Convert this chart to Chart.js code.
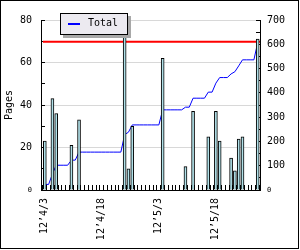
<!DOCTYPE html>
<html>
<head>
<meta charset="utf-8">
<script src="https://cdn.jsdelivr.net/npm/chart.js@4/dist/chart.umd.min.js"></script>
<style>
  html, body { margin: 0; padding: 0; background: #fff; }
  #wrap { position: relative; width: 300px; height: 250px; }
  #frame { position: absolute; left: 0; top: 0; width: 299px; height: 249px; box-sizing: border-box; border: 1px solid #000; pointer-events: none; }
  #legend { position: absolute; left: 60px; top: 13px; width: 68px; height: 22px; box-sizing: border-box; border: 1px solid #000; background: #eceaf0; box-shadow: 3px 3px 0 #a8a8a8; font: 10px "DejaVu Sans Mono"; color: #000; }
  #legend .swatch { position: absolute; left: 7px; top: 9px; width: 12px; height: 2px; background: #0000ff; }
  #legend .txt { position: absolute; left: 27px; top: 3px; line-height: 12px; }
</style>
</head>
<body>
<div id="wrap">
  <canvas id="chart" width="300" height="250"></canvas>
  <div id="legend"><span class="swatch"></span><span class="txt">Total</span></div>
  <div id="frame"></div>
</div>
<script>
// days counted from 12'4/3
let labelDays = [0, 15, 30, 45]
let labelText = ["12’4/3", "12’4/18", "12’5/3", "12’5/18"]

// pages read, only on the days something was read
let barDays = [0, 2, 3, 7, 9, 21, 22, 23, 31, 37, 39, 43, 45, 46, 49, 50, 51, 52, 56]
let pages = [23, 43, 36, 21, 33, 72, 10, 30, 62, 11, 37, 25, 37, 23, 15, 9, 24, 25, 71]

// running total, one value per day (right axis)
let total = [
  23, 23, 66, 102, 102, 102, 102, 123, 123, 156,
  156, 156, 156, 156, 156, 156, 156, 156, 156, 156,
  156, 228, 238, 268, 268, 268, 268, 268, 268, 268,
  268, 330, 330, 330, 330, 330, 330, 341, 341, 378,
  378, 378, 378, 403, 403, 440, 463, 463, 463, 478,
  487, 511, 536, 536, 536, 536, 607
]

let goal = 610

const mono = "DejaVu Sans Mono"

new Chart(document.getElementById("chart"), {
  type: 'bar',
  data: {
    datasets: [{
      type: 'bar',
      data: barDays.map((d, i) => ({x: d, y: pages[i]})),
      backgroundColor: '#b0e0e8',
      borderColor: '#000',
      borderWidth: 1,
      barThickness: 3,
      yAxisID: 'y',
      order: 0
    }, {
      type: 'line',
      data: total.map((v, i) => ({x: i, y: v})),
      borderColor: '#0000ff',
      borderWidth: 1,
      pointRadius: 0,
      tension: 0,
      yAxisID: 'y1',
      order: 1
    }, {
      type: 'line',
      data: [{x: -0.5, y: goal}, {x: 57, y: goal}],
      borderColor: '#ff0000',
      borderWidth: 2,
      pointRadius: 0,
      yAxisID: 'y1',
      order: 2
    }]
  },
  options: {
    responsive: false,
    animation: false,
    devicePixelRatio: 1,
    layout: { padding: { top: 20, left: 0, right: 0, bottom: 0 } },
    plugins: { legend: { display: false }, tooltip: { enabled: false } },
    scales: {
      x: {
        type: 'linear',
        position: 'bottom',
        min: -0.5,
        max: 56.1,
        afterBuildTicks: s => { s.ticks = total.map((v, i) => ({value: i})) },
        afterFit: s => { s.height = 60 },
        border: { color: '#000', width: 1 },
        grid: { offset: true, drawOnChartArea: false, drawTicks: true, tickLength: -5, tickColor: '#000' },
        ticks: {
          autoSkip: false,
          minRotation: 90,
          maxRotation: 90,
          padding: 13,
          color: '#000',
          font: { family: mono, size: 10 },
          callback: v => {
            let i = labelDays.indexOf(v)
            return i >= 0 ? labelText[i] : ''
          }
        }
      },
      y: {
        position: 'left',
        min: 0,
        max: 80,
        afterFit: s => { s.width = 41 },
        border: { color: '#000', width: 1 },
        grid: {
          color: ctx => ctx.tick && ctx.tick.value % 20 === 0 ? '#d8d8d8' : 'rgba(0,0,0,0)',
          tickColor: '#000',
          tickLength: -4
        },
        title: { display: true, text: 'Pages', color: '#000', font: { family: mono, size: 10 }, padding: { top: 3, bottom: 0 } },
        ticks: {
          stepSize: 10,
          autoSkip: false,
          padding: 13,
          color: '#000',
          font: ctx => ({ family: mono, size: ctx.tick && ctx.tick.value === 0 ? 7 : 10 }),
          callback: v => v % 20 === 0 ? v : ''
        }
      },
      y1: {
        position: 'right',
        min: 0,
        max: 700,
        afterFit: s => { s.width = 40 },
        border: { color: '#000', width: 1 },
        grid: { drawOnChartArea: false, tickColor: '#000', tickLength: -4 },
        ticks: {
          stepSize: 50,
          autoSkip: false,
          padding: 11,
          color: '#000',
          font: ctx => ({ family: mono, size: ctx.tick && ctx.tick.value === 0 ? 7 : 10 }),
          callback: v => v % 100 === 0 ? v : ''
        }
      }
    }
  }
})
</script>
</body>
</html>
